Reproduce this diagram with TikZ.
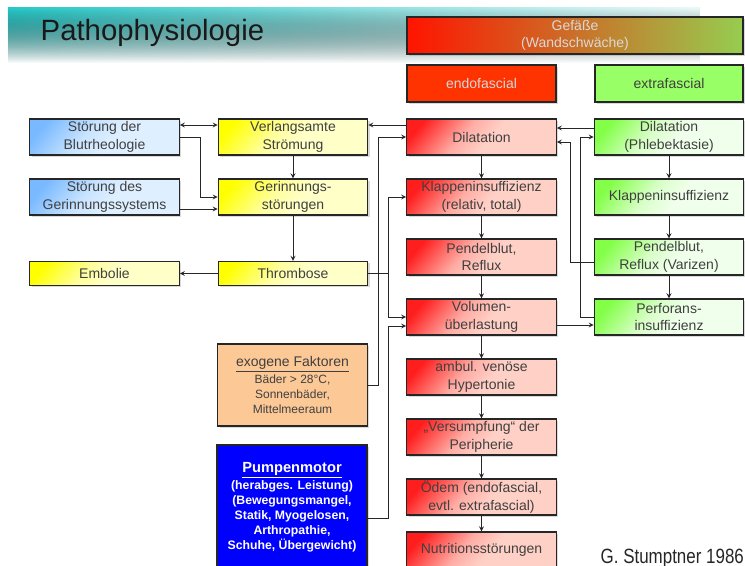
\documentclass[tikz,border=0pt]{standalone}
\usepackage{fontspec}
\setmainfont{Liberation Sans}
\newfontfamily\narrowsans[FakeStretch=0.82]{Liberation Sans}
\usetikzlibrary{shadows,fadings,calc}

\definecolor{tuerkis}{RGB}{40,200,200}
\definecolor{tuerkisMitte}{RGB}{170,225,225}
\definecolor{tuerkisHell}{RGB}{235,248,248}
\definecolor{rotStark}{RGB}{255,30,30}
\definecolor{rotHell}{RGB}{255,208,198}
\definecolor{gelbStark}{RGB}{255,255,0}
\definecolor{gelbHell}{RGB}{255,255,200}
\definecolor{blauStark}{RGB}{120,185,255}
\definecolor{blauHell}{RGB}{222,239,255}
\definecolor{gruenStark}{RGB}{130,255,70}
\definecolor{gruenHell}{RGB}{240,255,235}
\definecolor{endoRot}{RGB}{255,51,0}
\definecolor{extraGruen}{RGB}{153,255,102}
\definecolor{exoOrange}{RGB}{252,200,150}
\definecolor{pumpBlau}{RGB}{0,0,255}
\definecolor{gefRot}{RGB}{255,20,0}
\definecolor{gefMitte}{RGB}{215,145,55}
\definecolor{gefGruen}{RGB}{150,205,80}

% Verlauf: kraeftig oben links, sonst hell
\newcommand\verlauf[3]{\pgfdeclareverticalshading{#1}{100bp}{color(0bp)=(#3); color(46bp)=(#3); color(58bp)=(#3!80!#2); color(68bp)=(#3!40!#2); color(78bp)=(#2); color(100bp)=(#2)}}
\verlauf{rotverlauf}{rotStark}{rotHell}
\verlauf{gelbverlauf}{gelbStark}{gelbHell}
\verlauf{blauverlauf}{blauStark}{blauHell}
\verlauf{gruenverlauf}{gruenStark}{gruenHell}

\tikzfading[name=balken, top color=transparent!0, middle color=transparent!25, bottom color=transparent!100]

\tikzset{
  kasten/.style={draw=black!85, line width=0.9pt, inner sep=0pt, align=center,
    font=\fontsize{10.5}{13}\selectfont, text=black!75,
    drop shadow={shadow xshift=1.5pt, shadow yshift=-1.5pt, opacity=.3}},
  spalte/.style={kasten, minimum width=112pt, minimum height=27pt, shade, shading angle=50},
  rotbox/.style={spalte, shading=rotverlauf},
  gelbbox/.style={spalte, shading=gelbverlauf},
  blaubox/.style={spalte, shading=blauverlauf},
  gruenbox/.style={spalte, shading=gruenverlauf},
  pfeil/.style={draw=black!85, line width=0.7pt, -stealth},
}

\begin{document}
\begin{tikzpicture}[x=0.75pt, y=-0.75pt]
  \useasboundingbox (0,0) rectangle (745,566);
  \clip (0,0) rectangle (745,566);

  % Titelbalken
  \fill [left color=tuerkis, middle color=tuerkisMitte, right color=tuerkisHell, path fading=balken] (8,8) rectangle (700,63);
  \node [anchor=base west, font=\fontsize{22}{26}\selectfont, text=black!90] (titel) at (36,41) {Pathophysiologie};

  % Gefaesse
  \node [kasten, minimum width=252pt, minimum height=27.75pt, left color=gefRot, middle color=gefMitte, right color=gefGruen, text=white!85!black] (gefaesse) at (575,35.5) {Gefäße\\(Wandschwäche)};
  \node [kasten, minimum width=111.75pt, minimum height=27.75pt, fill=endoRot, text=white!85!black] (endo) at (481.5,83.5) {endofascial};
  \node [kasten, minimum width=111pt, minimum height=27.75pt, fill=extraGruen] (extra) at (669,83.5) {extrafascial};

  % linke Spalte
  \node [blaubox] (blut) at (104.5,137) {Störung der\\Blutrheologie};
  \node [blaubox] (gsys) at (104.5,197) {Störung des\\Gerinnungssystems};
  \node [gelbbox, minimum height=18pt] (emb) at (104.5,273.5) {Embolie};

  % gelbe Spalte
  \node [gelbbox] (verl) at (293,137) {Verlangsamte\\Strömung};
  \node [gelbbox] (gsto) at (293,197) {Gerinnungs-\\störungen};
  \node [gelbbox, minimum height=18pt] (thr) at (293,273.5) {Thrombose};
  \node [kasten, minimum width=112pt, minimum height=61.5pt, fill=exoOrange, font=\fontsize{9}{11.25}\selectfont] (exo) at (292.5,385)
    {{\fontsize{10.5}{13}\selectfont\underline{exogene Faktoren}}\\[1pt]Bäder > 28°C,\\Sonnenbäder,\\Mittelmeeraum};
  \node [kasten, minimum width=112.5pt, minimum height=93pt, fill=pumpBlau, text=white, font=\bfseries\fontsize{9.2}{11.25}\selectfont] (pump) at (292,507)
    {{\fontsize{11}{13}\selectfont\underline{Pumpenmotor}}\\[1.5pt](herabges. Leistung)\\(Bewegungsmangel,\\Statik, Myogelosen,\\Arthropathie,\\Schuhe, Übergewicht)};

  % endofasciale Spalte
  \node [rotbox] (rdil) at (481.5,137) {Dilatation};
  \node [rotbox] (rklap) at (481.5,197) {Klappeninsuffizienz\\(relativ, total)};
  \node [rotbox] (rpen) at (481.5,257) {Pendelblut,\\Reflux};
  \node [rotbox] (rvol) at (481.5,317) {Volumen-\\überlastung};
  \node [rotbox] (rhyp) at (481.5,377) {ambul. venöse\\Hypertonie};
  \node [rotbox] (rsumpf) at (481.5,437) {„Versumpfung“ der\\Peripherie};
  \node [rotbox] (roedem) at (481.5,497) {Ödem (endofascial,\\evtl. extrafascial)};
  \node [rotbox] (rnutr) at (481.5,550) {Nutritionsstörungen};

  % extrafasciale Spalte
  \node [gruenbox] (gdil) at (669,137) {Dilatation\\(Phlebektasie)};
  \node [gruenbox] (gklap) at (669,197) {Klappeninsuffizienz};
  \node [gruenbox] (gpen) at (669,257) {Pendelblut,\\Reflux (Varizen)};
  \node [gruenbox] (gperf) at (669,317) {Perforans-\\insuffizienz};

  \node [anchor=base west, font=\narrowsans\fontsize{15.5}{18}\selectfont, text=black!85] (autor) at (596,563) {G. Stumptner 1986};

  % Verbindungen links
  \draw [pfeil, stealth-stealth] ($(blut.east)+(0,-12)$) -- ($(verl.west)+(0,-12)$);
  \draw [pfeil] (blut.east) -- (200,137) |- (gsto.west);
  \draw [pfeil] ($(gsys.east)+(0,12)$) -- ($(gsto.west)+(0,12)$);
  \draw [pfeil] (verl) -- (gsto);
  \draw [pfeil] (gsto) -- (thr);
  \draw [pfeil] (thr) -- (emb);

  % Verbindungen Mitte
  \coordinate (abzweig) at (388,273.5);
  \draw [pfeil] ($(rdil.west)+(0,-12)$) -- ($(verl.east)+(0,-12)$);
  \draw [pfeil] (exo.east) -| (378,137) -- (rdil.west);
  \draw [pfeil] (thr.east) -- (abzweig) |- (rklap.west);
  \draw [pfeil] (abzweig) |- (rvol.west);
  \draw [pfeil] ($(pump.east)+(0,11)$) -| (388,326) -- ($(rvol.west)+(0,9)$);

  % Verbindungen rechts
  \draw [pfeil] ($(gdil.west)+(0,-9)$) -- ($(rdil.east)+(0,-9)$);
  \draw [pfeil] ($(gpen.west)+(0,5)$) -| (570,142) -- ($(rdil.east)+(0,5)$);
  \draw [pfeil] (gperf.west) -| (580,137) -- (gdil.west);
  \draw [pfeil] ($(rvol.east)+(0,8)$) -- ($(gperf.west)+(0,8)$);

  % Ketten
  \draw [pfeil] (rdil) -- (rklap);
  \draw [pfeil] (rklap) -- (rpen);
  \draw [pfeil] (rpen) -- (rvol);
  \draw [pfeil] (rvol) -- (rhyp);
  \draw [pfeil] (rhyp) -- (rsumpf);
  \draw [pfeil] (rsumpf) -- (roedem);
  \draw [pfeil] (roedem) -- (rnutr);
  \draw [pfeil] (gdil) -- (gklap);
  \draw [pfeil] (gklap) -- (gpen);
  \draw [pfeil] (gpen) -- (gperf);

\end{tikzpicture}
\end{document}
